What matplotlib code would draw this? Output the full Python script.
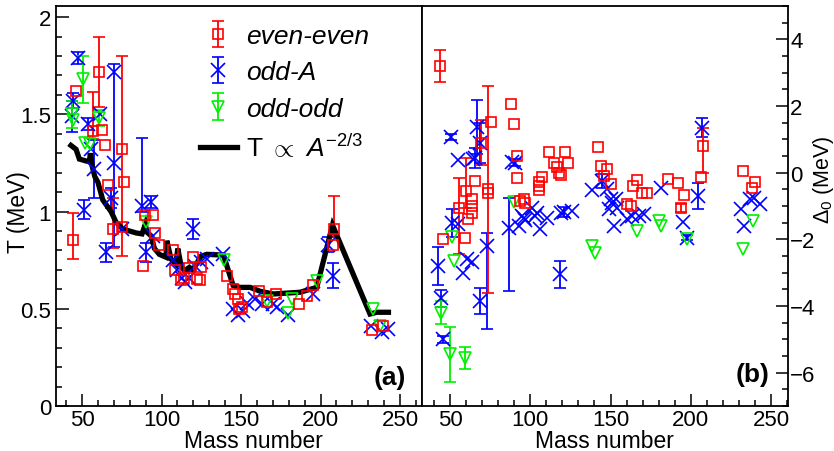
import numpy as np
import matplotlib
matplotlib.use("Agg")
import matplotlib.pyplot as plt
from matplotlib.ticker import MultipleLocator, FormatStrFormatter

nan = np.nan

# ---- panel (a): temperature T vs mass number ----
# even-even: A, T, lower err, upper err
ee_A = [44.5, 46.4, 57.1, 60.5, 62.6, 64.7, 66.1, 69.3, 75.0, 75.4, 76.6, 88.6, 89.8,
        94.9, 96.1, 98.6, 107.0, 108.7, 112.3, 114.0, 117.0, 119.6, 122.0, 124.8, 124.0,
        141.0, 144.8, 146.2, 148.3, 149.0, 150.4, 161.5, 166.2, 172.0, 186.7, 191.7,
        195.5, 207.7, 208.7, 232.2, 239.0]
ee_T = [0.855, 1.62, 1.415, 1.72, 1.42, 1.34, 1.135, 0.91, 0.92, 1.32, 1.15, 0.72, 0.98,
        0.98, 0.89, 0.83, 0.80, 0.70, 0.65, 0.66, 0.71, 0.765, 0.655, 0.715, 0.65,
        0.67, 0.60, 0.575, 0.55, 0.50, 0.51, 0.593, 0.533, 0.576, 0.524, 0.567,
        0.62, 0.83, 0.91, 0.39, 0.41]
ee_Tlo = [0.10, nan, 0.04, 0.18, nan, nan, nan, 0.10, nan, 0.55, nan, nan, nan,
          nan, nan, nan, nan, nan, nan, nan, nan, nan, nan, nan, nan,
          nan, nan, nan, nan, nan, nan, nan, nan, nan, nan, nan,
          nan, nan, 0.04, nan, nan]
ee_Thi = [0.14, nan, 0.20, 0.18, nan, nan, nan, 0.16, nan, 0.48, nan, nan, nan,
          nan, nan, nan, nan, nan, nan, nan, nan, nan, nan, nan, nan,
          nan, nan, nan, nan, nan, nan, nan, nan, nan, nan, nan,
          nan, nan, 0.17, nan, nan]

# odd-A
oa_A = [43.8, 44.5, 47.5, 51.0, 53.6, 55.7, 57.5, 61.5, 65.0, 68.2, 70.1, 70.0, 75.0,
        87.7, 90.3, 93.4, 94.5, 107.0, 110.0, 113.0, 115.0, 117.0, 119.6, 121.0, 125.0,
        128.4, 138.5, 145.0, 148.3, 151.5, 153.6, 158.8, 163.0, 170.3, 172.8, 179.7,
        195.0, 204.9, 207.7, 231.6, 238.5, 242.7]
oa_T = [1.49, 1.57, 1.79, 1.01, 1.45, 1.32, 1.22, 1.50, 0.79, 1.07, 1.25, 1.72, 0.91,
        1.03, 0.79, 1.05, 0.875, 0.75, 0.70, 0.66, 0.64, 0.66, 0.91, 0.72, 0.74,
        0.755, 0.78, 0.50, 0.47, 0.49, 0.53, 0.55, 0.525, 0.525, 0.51, 0.47,
        0.575, 0.83, 0.67, 0.41, 0.38, 0.395]
oa_Tlo = [0.08, 0.04, 0.03, 0.05, 0.03, nan, 0.15, nan, 0.05, 0.05, nan, 0.90, nan,
          0.03, 0.05, 0.03, nan, nan, nan, nan, nan, nan, 0.05, nan, nan,
          nan, nan, nan, nan, nan, nan, nan, nan, nan, nan, nan,
          nan, 0.04, 0.065, nan, nan, nan]
oa_Thi = [0.08, 0.04, 0.03, 0.05, 0.03, nan, 0.15, nan, 0.05, 0.05, nan, 0.04, nan,
          0.35, 0.05, 0.03, nan, nan, nan, nan, nan, nan, 0.05, nan, nan,
          nan, nan, nan, nan, nan, nan, nan, nan, nan, nan, nan,
          nan, 0.04, 0.065, nan, nan, nan]

# odd-odd
oo_A = [43.8, 44.5, 50.4, 52.0, 55.0, 60.5, 90.3, 139.0, 166.2, 179.7, 181.8, 197.6, 233.0, 237.4]
oo_T = [1.50, 1.47, 1.68, 1.355, 1.345, 1.48, 0.945, 0.75, 0.54, 0.48, 0.55, 0.645, 0.50, 0.41]
oo_Terr = [0.07, nan, 0.12, nan, nan, 0.04, nan, nan, nan, nan, nan, nan, nan, nan]

# T ~ A^(-2/3) curve
fit_A = [43, 46.2, 48.3, 52.5, 54.6, 55.2, 56.3, 58, 60, 63, 68.2, 71.4, 75.6, 84, 87.7,
         89.8, 90.7, 93.4, 95.5, 98.6, 102.8, 103.3, 106, 109, 110.2, 112.3, 114.4,
         117.5, 119.6, 124.8, 128.4, 138.9, 145, 149.4, 155.7, 162, 170.3, 187.1,
         197.6, 207.5, 231.1, 235.3, 242.7]
fit_T = [1.34, 1.32, 1.27, 1.26, 1.256, 1.30, 1.235, 1.18, 1.15, 1.06, 1.0, 0.945, 0.91,
         0.89, 0.885, 0.935, 0.895, 0.875, 0.81, 0.78, 0.765, 0.85, 0.755, 0.73, 0.81,
         0.72, 0.695, 0.713, 0.70, 0.77, 0.78, 0.776, 0.62, 0.61, 0.61, 0.59, 0.576,
         0.585, 0.61, 0.93, 0.473, 0.482, 0.482]

# ---- panel (b): Delta_0 vs mass number ----
ee_A2 = [43.6, 45.8, 55.8, 59.4, 59.8, 61.4, 63.5, 63.5, 63.5, 65.6, 69.4, 73.6, 73.8,
         75.8, 87.7, 89.8, 91.7, 91.7, 93.8, 95.8, 96.9, 105.2, 105.2, 105.2, 107.3,
         111.7, 115.0, 116.7, 117.7, 119.4, 121.9, 123.5, 142.0, 143.8, 145.8, 147.9,
         150.0, 160.4, 162.5, 164.2, 166.3, 169.8, 172.5, 185.8, 192.0, 194.2, 195.8,
         206.3, 207.9, 232.3, 238.1, 240.2]
ee_D = [3.2, -2.0, -1.05, -1.95, -0.55, -1.4, -0.8, -1.0, -1.2, -0.25, 0.9, -0.5, -0.6,
        1.52, 2.05, 1.47, 0.5, -0.17, -0.85, -0.78, -0.9, -0.28, -0.4, -0.52, -0.12,
        0.63, 0.28, 0.17, 0.0, -0.07, 0.63, 0.3, 0.76, 0.2, -0.11, 0.11,
        -0.34, -0.95, -1.0, -0.4, -0.23, -0.62, -0.62, -0.18, -0.3, -1.05, -0.68,
        -0.12, 0.8, 0.05, -0.45, -0.27]
ee_Dlo = [0.47, nan, 1.4, nan, 0.5, nan, nan, nan, nan, nan, 0.67, 3.1, nan,
          nan, nan, nan, nan, nan, nan, nan, nan, nan, nan, nan, nan,
          nan, nan, nan, nan, nan, nan, nan, nan, nan, nan, nan,
          nan, nan, nan, nan, nan, nan, nan, nan, nan, 0.12, nan,
          nan, 0.8, nan, nan, nan]
ee_Dhi = [0.47, nan, 0.9, nan, 1.0, nan, nan, nan, nan, nan, 0.67, 3.1, nan,
          nan, nan, nan, nan, nan, nan, nan, nan, nan, nan, nan, nan,
          nan, nan, nan, nan, nan, nan, nan, nan, nan, nan, nan,
          nan, nan, nan, nan, nan, nan, nan, nan, nan, 0.12, nan,
          nan, 0.55, nan, nan, nan]

oa_A2 = [42.7, 44.4, 45.8, 50.6, 51.1, 54.8, 55.2, 58.3, 60.4, 63.5, 64.2, 65.6, 66.7,
         68.8, 68.8, 72.9, 86.5, 88.5, 90.2, 92.7, 94.8, 95.8, 96.9, 101.0, 103.0,
         104.2, 106.3, 110.4, 118.8, 119.4, 120.8, 126.0, 138.5, 144.8, 147.9, 149.0,
         150.0, 151.0, 152.0, 153.1, 154.2, 160.4, 163.5, 167.7, 170.8, 181.2, 195.2,
         197.5, 204.2, 207.3, 231.3, 233.3, 237.1, 239.6, 243.3]
oa_D = [-2.8, -3.77, -5.0, 1.07, -1.52, 0.37, -1.55, -3.0, -2.6, -2.68, 0.42, 0.45, 1.37,
        0.9, -3.85, -2.2, -1.65, 0.32, 0.3, -1.6, -1.3, -1.35, -1.42, -1.05, -1.3,
        -1.2, -1.7, -1.35, -3.05, -1.2, -1.18, -1.15, -0.52, -0.25, -0.5, -1.1,
        -0.8, -0.9, -1.6, -0.8, -1.05, -1.4, -1.3, -1.3, -1.25, -0.45, -1.48,
        -1.95, -0.7, 1.35, -1.1, -1.6, -0.8, -0.75, -0.95]
oa_Dlo = [0.57, 0.25, 0.1, 0.1, 0.42, nan, nan, nan, nan, nan, nan, 0.3, 0.8,
          0.6, 0.4, 2.5, 1.9, nan, 0.1, nan, nan, nan, nan, nan, nan,
          nan, nan, nan, 0.4, nan, 0.15, nan, nan, 0.2, nan, nan,
          nan, nan, nan, nan, nan, nan, nan, nan, nan, nan, nan,
          0.08, 0.4, 0.28, nan, nan, nan, nan, nan]
oa_Dhi = [0.57, 0.25, 0.1, 0.1, 0.42, nan, nan, nan, nan, nan, nan, 0.3, 0.8,
          0.6, 0.4, 0.4, 0.9, nan, 0.1, nan, nan, nan, nan, nan, nan,
          nan, nan, nan, 0.4, nan, 0.15, nan, nan, 0.2, nan, nan,
          nan, nan, nan, nan, nan, nan, nan, nan, nan, nan, nan,
          0.08, 0.4, 0.28, nan, nan, nan, nan, nan]

oo_A2 = [44.2, 50.0, 51.5, 52.7, 59.4, 89.6, 138.5, 140.6, 166.3, 180.2, 181.3, 197.9, 232.3, 238.9]
oo_D = [-4.2, -5.45, -1.93, -2.65, -5.55, -0.87, -2.2, -2.4, -1.75, -1.45, -1.6, -2.0, -2.3, -1.45]
oo_Derr = [0.35, 0.82, nan, nan, 0.33, nan, nan, nan, nan, nan, nan, nan, nan, nan]

RED, BLUE, GREEN = "#ff0000", "#0000ff", "#00f000"

plt.rcParams["font.family"] = ["Liberation Sans", "DejaVu Sans"]
plt.rcParams["mathtext.fontset"] = "custom"
plt.rcParams["mathtext.rm"] = "Liberation Sans"
plt.rcParams["mathtext.it"] = "Liberation Sans:italic"
plt.rcParams["mathtext.bf"] = "Liberation Sans:bold"


def draw_points(ax, x, y, lo, hi, color, marker, ms):
    """Open markers with capped error bars, ROOT style"""
    return ax.errorbar(x, y, yerr=[lo, hi], fmt=marker, ms=ms, mfc="none", mec=color,
                       mew=1.2, ecolor=color, elinewidth=1.3, capsize=4, capthick=1.3)


fig = plt.figure(figsize=(8.34, 4.52), dpi=100)
axL = fig.add_axes([56 / 834, 45 / 452, 366 / 834, 400 / 452])
axR = fig.add_axes([422 / 834, 45 / 452, 366 / 834, 400 / 452])

# panel (a)
h_oa = draw_points(axL, oa_A, oa_T, oa_Tlo, oa_Thi, BLUE, "x", 10)
h_oo = draw_points(axL, oo_A, oo_T, oo_Terr, oo_Terr, GREEN, "v", 9)
h_ee = draw_points(axL, ee_A, ee_T, ee_Tlo, ee_Thi, RED, "s", 7.3)
h_fit, = axL.plot(fit_A, fit_T, color="black", lw=3.8, solid_joinstyle="miter")

axL.set_xlim(33.6, 263.8)
axL.set_ylim(0, 2.057)
axL.xaxis.set_major_locator(MultipleLocator(50))
axL.xaxis.set_minor_locator(MultipleLocator(10))
axL.yaxis.set_major_locator(MultipleLocator(0.5))
axL.yaxis.set_minor_locator(MultipleLocator(0.1))
axL.yaxis.set_major_formatter(FormatStrFormatter("%g"))
axL.tick_params(which="both", direction="in", top=False, right=False, labelsize=16, width=1.1)
axL.tick_params(which="major", length=9)
axL.tick_params(which="minor", length=4.5)
axL.tick_params(axis="x", pad=2)

leg = axL.legend([h_ee, h_oa, h_oo, h_fit],
                 ["even-even", "odd-A", "odd-odd", r"T $\propto$ $A^{-2/3}$"],
                 loc="upper left", bbox_to_anchor=((200 - 56) / 366, (407 - 25) / 400),
                 frameon=False, fontsize=19, handlelength=1.4, handletextpad=0.35,
                 labelspacing=0.47, borderpad=0, borderaxespad=0)
for t in leg.get_texts()[:3]:
    t.set_style("italic")

axL.text(0.913, 0.073, "(a)", transform=axL.transAxes, fontsize=19, fontweight="bold",
         ha="center", va="center")

# panel (b)
draw_points(axR, oa_A2, oa_D, oa_Dlo, oa_Dhi, BLUE, "x", 10)
draw_points(axR, oo_A2, oo_D, oo_Derr, oo_Derr, GREEN, "v", 9)
draw_points(axR, ee_A2, ee_D, ee_Dlo, ee_Dhi, RED, "s", 7.3)

axR.set_xlim(32.5, 260.6)
axR.set_ylim(-7, 5)
axR.xaxis.set_major_locator(MultipleLocator(50))
axR.xaxis.set_minor_locator(MultipleLocator(10))
axR.yaxis.set_major_locator(MultipleLocator(2))
axR.yaxis.set_minor_locator(MultipleLocator(0.5))
axR.tick_params(which="both", direction="in", top=False, left=False, right=True,
                labelleft=False, labelright=True, labelsize=16, width=1.1)
axR.tick_params(which="major", length=9)
axR.tick_params(which="minor", length=4.5)
axR.tick_params(axis="x", pad=2)
axR.tick_params(axis="y", pad=1.5)

axR.text(0.904, 0.08, "(b)", transform=axR.transAxes, fontsize=19, fontweight="bold",
         ha="center", va="center")

for ax in (axL, axR):
    for sp in ax.spines.values():
        sp.set_linewidth(1.3)

fig.text(253 / 834, 1 - 442 / 452, "Mass number", fontsize=16.5, ha="center", va="center")
fig.text(604 / 834, 1 - 442 / 452, "Mass number", fontsize=16.5, ha="center", va="center")
fig.text(18 / 834, 1 - 212 / 452, "T (MeV)", fontsize=16.5, rotation=90, ha="center", va="center")
fig.text(823 / 834, 1 - 180 / 452, r"$\Delta_0$ (MeV)", fontsize=15.5, rotation=90,
         ha="center", va="center")

fig.savefig("out.png", dpi=100)
